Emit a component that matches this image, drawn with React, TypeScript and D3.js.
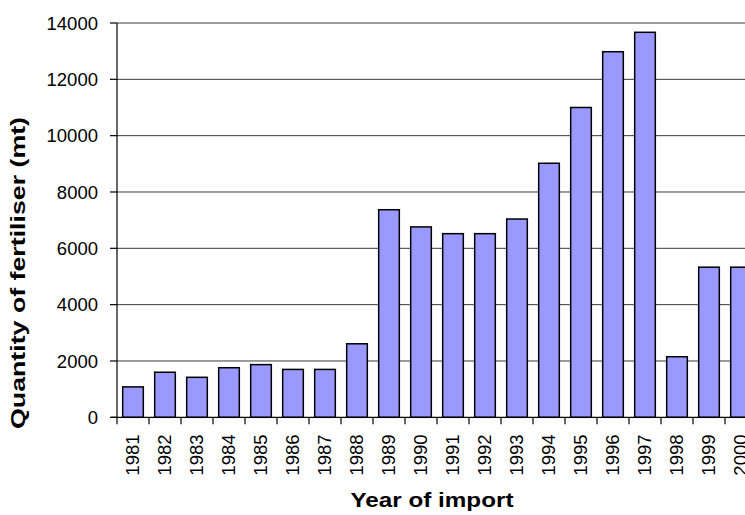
import React from "react";
import * as d3 from "d3";

const years = ["1981","1982","1983","1984","1985","1986","1987","1988","1989","1990","1991","1992","1993","1994","1995","1996","1997","1998","1999","2000"];
const quantities = [1080,1600,1420,1760,1870,1700,1700,2610,7370,6760,6520,6520,7040,9020,11000,12980,13670,2150,5330,5330];
const yTicks = [0,2000,4000,6000,8000,10000,12000,14000];
const yTitle = "Quantity of fertiliser (mt)";
const xTitle = "Year of import";

const W = 745, H = 515;
const left = 117, top = 23, bottom = 417.3, right = 757;

export default function App() {
  const x = d3.scaleBand<string>().domain(years).range([left, right]).paddingInner(0.355).paddingOuter(0.1775);
  const y = d3.scaleLinear().domain([0, 14000]).range([bottom, top]);
  const step = x.step();
  const font = "'Liberation Sans', Arial, sans-serif";
  return (
    <svg width={W} height={H} style={{ position: "absolute", left: 0, top: 0, background: "#fff" }} fontFamily={font}>
      <defs>
        <clipPath id="clipAll"><rect x={0} y={0} width={W} height={H} /></clipPath>
      </defs>
      <g clipPath="url(#clipAll)">
        {yTicks.filter(t => t > 0).map(t => (
          <line key={t} x1={left} x2={right} y1={y(t)} y2={y(t)} stroke="#3a3a3a" strokeWidth={1} />
        ))}
        {years.map((yr, i) => (
          <rect key={yr} x={x(yr)} y={y(quantities[i])} width={x.bandwidth()} height={y(0) - y(quantities[i])}
            fill="#9999FF" stroke="#000" strokeWidth={1.5} />
        ))}
        <line x1={left} x2={left} y1={top} y2={bottom} stroke="#000" strokeWidth={1.2} />
        <line x1={left - 6} x2={right} y1={bottom} y2={bottom} stroke="#000" strokeWidth={1.2} />
        {yTicks.map(t => (
          <g key={t}>
            <line x1={left - 7} x2={left} y1={y(t)} y2={y(t)} stroke="#000" strokeWidth={1.2} />
            <text x={98} y={y(t)} dy="0.36em" textAnchor="end" fontSize={18.5} fill="#000">{t}</text>
          </g>
        ))}
        {d3.range(years.length + 1).map(i => (
          <line key={i} x1={left + i * step} x2={left + i * step} y1={bottom} y2={bottom + 7} stroke="#000" strokeWidth={1.2} />
        ))}
        {years.map(yr => {
          const cx = (x(yr) as number) + x.bandwidth() / 2;
          return (
            <text key={yr} transform={`translate(${cx - 1},434.5) rotate(-90)`} textAnchor="end" dy="0.36em" fontSize={18.5} fill="#000">{yr}</text>
          );
        })}
        <text transform={`translate(25,273) rotate(-90)`} textAnchor="middle" fontSize={21} fontWeight="bold" fill="#000"
          textLength={312} lengthAdjust="spacingAndGlyphs">{yTitle}</text>
        <text x={432} y={507} textAnchor="middle" fontSize={21} fontWeight="bold" fill="#000"
          textLength={163} lengthAdjust="spacingAndGlyphs">{xTitle}</text>
      </g>
    </svg>
  );
}
